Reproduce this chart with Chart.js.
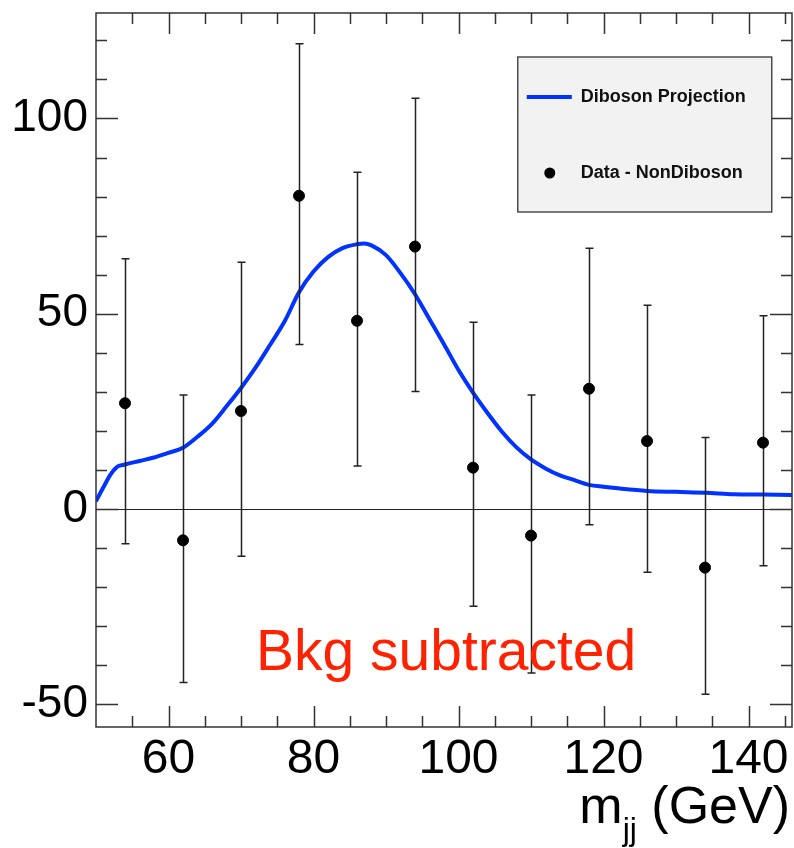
<!DOCTYPE html>
<html>
<head>
<meta charset="utf-8">
<script src="https://cdn.jsdelivr.net/npm/chart.js@4.4.1/dist/chart.umd.min.js"></script>
<style>
  html, body { margin: 0; padding: 0; background: #fff; }
  canvas { display: block; }
</style>
</head>
<body>
<canvas id="massChart" width="794" height="848"></canvas>
<script>
// bin centres and background-subtracted data (GeV, events)
const massBins = [54, 62, 70, 78, 86, 94, 102, 110, 118, 126, 134, 142];
const dataValues = [27.1, -8.0, 25.1, 80.2, 48.2, 67.2, 10.6, -6.8, 30.8, 17.4, -15.0, 17.0];
const errHigh = [64.1, 29.2, 63.2, 119.1, 86.2, 105.2, 47.8, 29.2, 66.8, 52.2, 18.3, 49.5];
const errLow = [-8.9, -44.4, -12.1, 42.1, 11.0, 30.1, -24.9, -42.0, -4.0, -16.2, -47.4, -14.5];

// diboson projection curve
const curveMass = [50, 51, 52, 53, 54, 56, 58, 60, 62, 64, 66, 68, 70, 72, 74, 76, 78, 80, 82, 84,
                   86, 87, 88, 90, 92, 94, 96, 98, 100, 102, 104, 106, 108, 110, 112, 114, 116,
                   118, 120, 122, 126, 130, 134, 138, 142, 146];
const curveValues = [2.0, 5.5, 8.8, 10.9, 11.4, 12.3, 13.2, 14.4, 15.7, 18.5, 21.8, 26.3, 31.0, 36.2,
                     42.0, 48.0, 55.5, 60.8, 64.5, 66.8, 67.8, 68.0, 67.5, 65.0, 60.4, 55.0, 48.6,
                     42.2, 35.6, 29.8, 24.6, 19.8, 15.8, 12.7, 10.4, 8.6, 7.4, 6.2, 5.7, 5.3, 4.65,
                     4.4, 4.2, 3.8, 3.7, 3.6];

const xTicks = [60, 80, 100, 120, 140];
const yTicks = [-50, 0, 50, 100];
const xMinorStep = 5;
const yMinorStep = 10;

const FONT = '"Liberation Sans", Arial, Helvetica, sans-serif';

const rootStyle = {
    id: 'rootStyle',
    beforeDatasetsDraw(chart) {
        const ctx = chart.ctx, a = chart.chartArea, y = chart.scales.y;
        ctx.save();
        ctx.strokeStyle = '#222';
        ctx.lineWidth = 1.2;
        ctx.beginPath();
        const y0 = Math.round(y.getPixelForValue(0)) + 0.5;
        ctx.moveTo(a.left, y0);
        ctx.lineTo(a.right, y0);
        ctx.stroke();
        ctx.restore();
    },
    afterDatasetDraw(chart, args) {
        if (args.index !== 1) return;
        // error bars go over the curve, under the markers
        const ctx = chart.ctx, x = chart.scales.x, y = chart.scales.y;
        ctx.save();
        ctx.strokeStyle = '#222';
        ctx.lineWidth = 1.5;
        massBins.forEach((m, i) => {
            const px = Math.round(x.getPixelForValue(m)) + 0.5;
            const top = y.getPixelForValue(errHigh[i]);
            const bot = y.getPixelForValue(errLow[i]);
            ctx.beginPath();
            ctx.moveTo(px, top); ctx.lineTo(px, bot);
            ctx.moveTo(px - 4, top); ctx.lineTo(px + 4, top);
            ctx.moveTo(px - 4, bot); ctx.lineTo(px + 4, bot);
            ctx.stroke();
        });
        ctx.restore();
    },
    afterDraw(chart) {
        const ctx = chart.ctx, a = chart.chartArea, x = chart.scales.x, y = chart.scales.y;
        ctx.save();

        // frame
        ctx.strokeStyle = '#333';
        ctx.lineWidth = 1.5;
        ctx.strokeRect(a.left, a.top, a.right - a.left, a.bottom - a.top);

        // inward ticks on all four sides
        ctx.beginPath();
        for (let v = x.min; v <= x.max; v += xMinorStep) {
            if (v <= x.min) continue;
            const px = Math.round(x.getPixelForValue(v)) + 0.5;
            const len = xTicks.includes(v) ? 21 : 11;
            ctx.moveTo(px, a.bottom); ctx.lineTo(px, a.bottom - len);
            ctx.moveTo(px, a.top); ctx.lineTo(px, a.top + len);
        }
        for (let v = -50; v <= y.max; v += yMinorStep) {
            const py = Math.round(y.getPixelForValue(v)) + 0.5;
            const len = yTicks.includes(v) ? 22 : 11;
            ctx.moveTo(a.left, py); ctx.lineTo(a.left + len, py);
            ctx.moveTo(a.right, py); ctx.lineTo(a.right - len, py);
        }
        ctx.stroke();

        // legend box
        const lx = a.left + 0.606 * (a.right - a.left);
        const ly = a.top + 44;
        const lw = 254, lh = 155;
        ctx.fillStyle = '#f2f2f2';
        ctx.fillRect(lx, ly, lw, lh);
        ctx.strokeStyle = '#333';
        ctx.lineWidth = 1.3;
        ctx.strokeRect(lx, ly, lw, lh);

        ctx.strokeStyle = '#0033ff';
        ctx.lineWidth = 4;
        ctx.beginPath();
        ctx.moveTo(lx + 9, ly + 40);
        ctx.lineTo(lx + 54, ly + 40);
        ctx.stroke();

        ctx.fillStyle = '#000';
        ctx.beginPath();
        ctx.arc(lx + 32, ly + 116, 5.5, 0, Math.PI * 2);
        ctx.fill();

        ctx.font = 'bold 18px ' + FONT;
        ctx.textBaseline = 'middle';
        ctx.textAlign = 'left';
        ctx.fillStyle = '#111';
        ctx.fillText('Diboson Projection', lx + 63, ly + 40);
        ctx.fillText('Data - NonDiboson', lx + 63, ly + 116);

        // annotation
        ctx.fillStyle = 'rgb(255,34,0)';
        ctx.font = '57px ' + FONT;
        ctx.textBaseline = 'alphabetic';
        ctx.fillText('Bkg subtracted', a.left + 160, a.bottom - 57);

        // x-axis title with subscript
        ctx.fillStyle = '#000';
        ctx.textAlign = 'right';
        ctx.font = '52px ' + FONT;
        const tail = ' (GeV)';
        const right = a.right - 2;
        ctx.fillText(tail, right, 823);
        const tailW = ctx.measureText(tail).width;
        ctx.font = '32px ' + FONT;
        ctx.fillText('jj', right - tailW, 840);
        const subW = ctx.measureText('jj').width;
        ctx.font = '52px ' + FONT;
        ctx.fillText('m', right - tailW - subW, 823);

        ctx.restore();
    }
};

new Chart(document.getElementById('massChart').getContext('2d'), {
    type: 'scatter',
    data: {
        datasets: [{
            label: 'Data - NonDiboson',
            data: massBins.map((m, i) => ({ x: m, y: dataValues[i] })),
            backgroundColor: '#000',
            borderColor: '#000',
            pointRadius: 5.5,
            pointHoverRadius: 5.5
        }, {
            label: 'Diboson Projection',
            data: curveMass.map((m, i) => ({ x: m, y: curveValues[i] })),
            showLine: true,
            borderColor: '#0033ff',
            borderWidth: 4,
            pointRadius: 0,
            cubicInterpolationMode: 'monotone'
        }]
    },
    options: {
        responsive: false,
        animation: false,
        devicePixelRatio: 1,
        layout: { autoPadding: false, padding: { top: 13, right: 2, left: 0, bottom: 0 } },
        plugins: {
            legend: { display: false },
            tooltip: { enabled: false }
        },
        scales: {
            x: {
                type: 'linear',
                min: 50,
                max: 146,
                grid: { display: false, drawTicks: false },
                border: { display: false },
                afterBuildTicks: (s) => { s.ticks = xTicks.map(v => ({ value: v })); },
                afterFit: (s) => {
                    s.height = 121;
                    s.paddingLeft = 0;
                    s.paddingRight = 0;
                },
                ticks: {
                    color: '#000',
                    padding: 4,
                    maxRotation: 0,
                    font: { family: FONT, size: 48 }
                }
            },
            y: {
                min: -55.8,
                max: 127,
                grid: { display: false, drawTicks: false },
                border: { display: false },
                afterBuildTicks: (s) => { s.ticks = yTicks.map(v => ({ value: v })); },
                afterFit: (s) => {
                    s.width = 96;
                    s.paddingTop = 0;
                    s.paddingBottom = 0;
                },
                ticks: {
                    color: '#000',
                    padding: 8,
                    font: { family: FONT, size: 46 }
                }
            }
        }
    },
    plugins: [rootStyle]
});
</script>
</body>
</html>
